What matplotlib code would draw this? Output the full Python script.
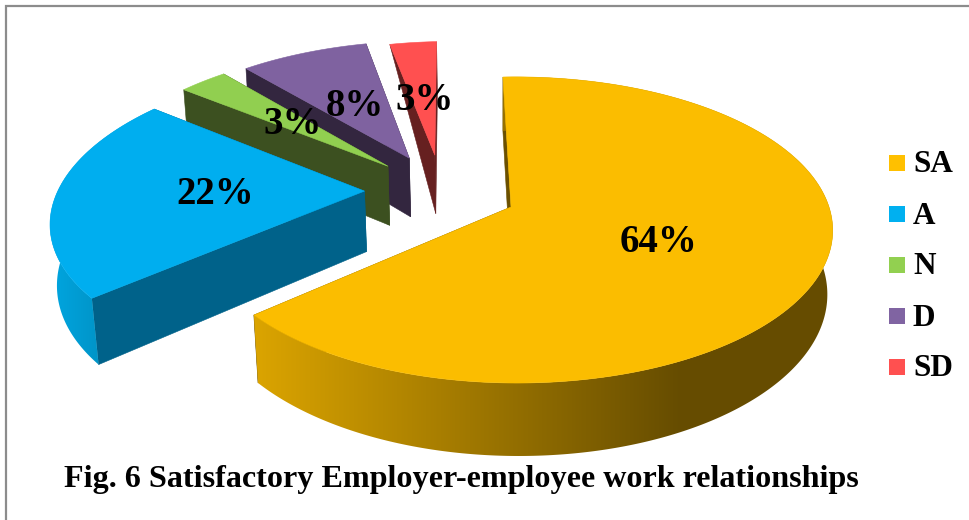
import matplotlib
matplotlib.use('Agg')
import matplotlib.pyplot as plt
from matplotlib.patches import Polygon, Rectangle
import numpy as np

labels = ['SA', 'A', 'N', 'D', 'SD']
values = [64, 22, 3, 8, 3]
title = 'Fig. 6 Satisfactory Employer-employee work relationships'

top_colors = ['#FBBD00', '#00AEEF', '#91CF50', '#7F62A0', '#FF5050']
legend_colors = ['#FFC000', '#00B0F0', '#92D050', '#8064A2', '#FF5050']
side_colors = ['#6B5000', '#00628A', '#3C5020', '#33263F', '#662020']

# explosion of each slice on the pie plane, 1 = pie radius
explode_u = [0, -0.48, -0.413, -0.344, -0.258]
explode_v = [0, 0.109, 0.286, 0.345, 0.367]
radius = [1, 1.03, 1.01, 0.995, 0.965]
# text positions in pixels
label_x = [659, 215, 293, 355, 425]
label_y = [242, 195, 125, 106, 100]

# perspective camera
cx, cy = 511, 207
R, Rs, k, m = 312.7, 149.6, 0.15, 0.0167
H = 62
vp_x, vp_dist = 500, 4000
start_angle = -1.7


def top_pts(u, v):
    w = 1 + k * v - m * u
    return cx + R * u / w, cy - Rs * v / w


def bottom_pts(u, v):
    x, y = top_pts(u, v)
    dy = H / (1 + k * v - m * u)
    return x + (vp_x - x) * dy / vp_dist, y + dy


fig = plt.figure(figsize=(9.7, 5.2), dpi=100)
ax = fig.add_axes([0, 0, 1, 1])

# only the top and left of the frame are in the picture
ax.plot([6, 6, 970], [520, 6, 6], color='#8C8C8C', lw=1.6, solid_joinstyle='miter')

angles = np.cumsum([0] + values) * 3.6 + start_angle

# gradients of the outer wall, left to right
grad_x = np.arange(0, 970)
grad_r = np.interp(grad_x, [254, 680], [0.86, 0.40])
sa_grad = np.dstack([grad_r, grad_r * 0.75, grad_r * 0])
a_grad = np.dstack([grad_r * 0, np.interp(grad_x, [50, 100], [0.65, 0.58]), np.interp(grad_x, [50, 100], [0.88, 0.78])])
wall_grad = {0: sa_grad, 1: a_grad}

# back slices first
z = 2
for i in [4, 3, 2, 1, 0]:
    th = np.radians(np.linspace(angles[i], angles[i + 1], max(values[i] * 6, 12)))
    u = explode_u[i] + radius[i] * np.sin(th)
    v = explode_v[i] + radius[i] * np.cos(th)
    au, av = explode_u[i], explode_v[i]

    tx, ty = top_pts(u, v)
    bx, by = bottom_pts(u, v)
    ax_t, ay_t = top_pts(au, av)
    ax_b, ay_b = bottom_pts(au, av)

    # radial walls
    for j in [0, -1]:
        if i == 4 and j == 0:
            pts = [(tx[j], ty[j]), (ax_t, ay_t), (ax_b, ay_b)]
        else:
            pts = [(tx[j], ty[j]), (ax_t, ay_t), (ax_b, ay_b), (bx[j], by[j])]
        ax.add_patch(Polygon(pts, closed=True, fc=side_colors[i], ec=side_colors[i], lw=0.4, zorder=z))
    z += 1

    # outer wall, the back slices hide theirs
    if i in wall_grad:
        pts = list(zip(tx, ty)) + list(zip(bx[::-1], by[::-1]))
        clip = Polygon(pts, closed=True, fc='none', ec='none', transform=ax.transData)
        ax.add_patch(clip)
        im = ax.imshow(wall_grad[i], extent=[0, 970, 520, 0], aspect='auto', zorder=z)
        im.set_clip_path(clip)
        z += 1

    # top
    pts = [(ax_t, ay_t)] + list(zip(tx, ty))
    ax.add_patch(Polygon(pts, closed=True, fc=top_colors[i], ec=top_colors[i], lw=0.4, zorder=z))
    z += 1

font = 'Liberation Serif'
for val, x, y in zip(values, label_x, label_y):
    ax.text(x, y, f'{val}%', family=font, weight='bold', size=28, ha='center', va='center', color='black', zorder=z)

for n, (lab, col) in enumerate(zip(labels, legend_colors)):
    yy = 163 + n * 51
    ax.add_patch(Rectangle((889, yy - 8), 16, 16, fc=col, ec='none', zorder=z))
    ax.text(913, yy + 2, lab, family=font, weight='bold', size=22.5, ha='left', va='center', color='black', zorder=z)

ax.text(461.5, 480, title, family=font, weight='bold', size=23.1, ha='center', va='center', color='black', zorder=z)

ax.set_xlim(0, 970)
ax.set_ylim(520, 0)
ax.axis('off')

fig.savefig('out.png', dpi=100)
